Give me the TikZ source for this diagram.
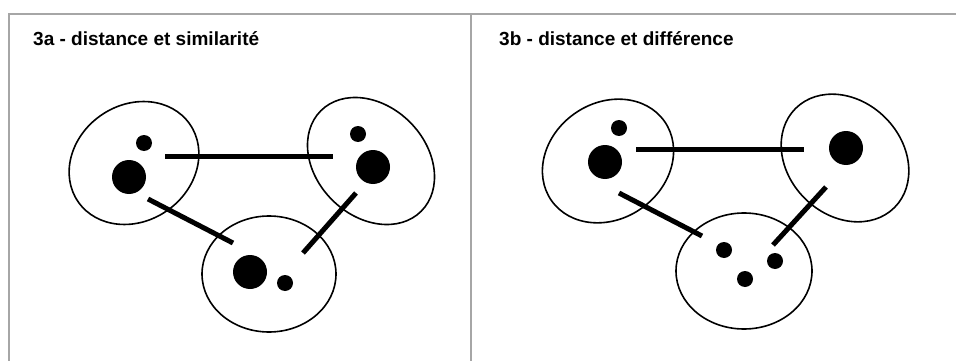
\documentclass[tikz,border=0pt]{standalone}
\usepackage{fontspec}
\newfontfamily\headfont{Liberation Sans}

\begin{document}
\begin{tikzpicture}[x=1pt,y=-1pt,
        frame/.style={gray!70, line width=1.8pt},
        group/.style={line width=1.6pt},
        bond/.style={line width=5pt},
        head/.style={anchor=base west, inner sep=0pt, font=\headfont\bfseries\fontsize{19}{23}\selectfont}]
    \useasboundingbox (0,0) rectangle (956,361);

    % cadre
    \draw[frame] (9,361) -- (9,14) -- (956,14);
    \draw[frame] (471,14) -- (471,361);

    \node[head] (titleA) at (33,46) {3a - distance et similarité};
    \node[head] (titleB) at (499,46) {3b - distance et différence};

    % 3a
    \draw[group, rotate around={35:(134,163)}] (134,163) ellipse (68 and 58);
    \draw[group, rotate around={-45:(371,161)}] (371,161) ellipse (71 and 55);
    \draw[group] (269,274) ellipse (67 and 58);

    \fill (144,143) circle (8);
    \fill (129,177) circle (17);
    \fill (358,134) circle (8);
    \fill (373,167) circle (17);
    \fill (250,272) circle (17);
    \fill (285,283) circle (8);

    \coordinate (a1) at (165,156);
    \coordinate (a2) at (333,156);
    \coordinate (a3) at (148,199);
    \coordinate (a4) at (233,243);
    \coordinate (a5) at (356,193);
    \coordinate (a6) at (303,253);
    \draw[bond] (a1) -- (a2);
    \draw[bond] (a3) -- (a4);
    \draw[bond] (a5) -- (a6);

    % 3b
    \draw[group, rotate around={35:(608,161)}] (608,161) ellipse (69 and 58);
    \draw[group, rotate around={-45:(845,158)}] (845,158) ellipse (70 and 57);
    \draw[group] (744,271) ellipse (68 and 58);

    \fill (619,128) circle (8);
    \fill (605,162) circle (17);
    \fill (846,148) circle (17);
    \fill (724,250) circle (8);
    \fill (775,261) circle (8);
    \fill (745,279) circle (8);

    \coordinate (b1) at (636,149);
    \coordinate (b2) at (804,149);
    \coordinate (b3) at (619,193);
    \coordinate (b4) at (702,236);
    \coordinate (b5) at (826,187);
    \coordinate (b6) at (773,245);
    \draw[bond] (b1) -- (b2);
    \draw[bond] (b3) -- (b4);
    \draw[bond] (b5) -- (b6);
\end{tikzpicture}
\end{document}
